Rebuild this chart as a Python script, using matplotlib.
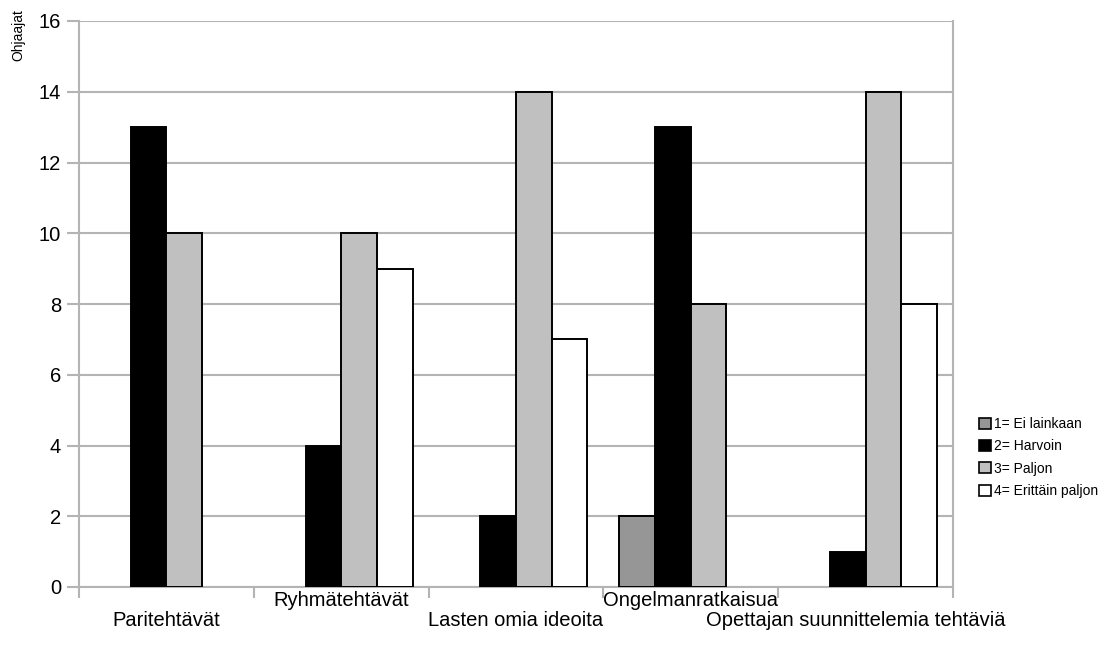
import matplotlib
matplotlib.use("Agg")
import matplotlib.pyplot as plt
import numpy as np
from matplotlib.patches import Patch
import matplotlib.transforms as mtransforms

plt.rcParams['font.family'] = ['Liberation Sans', 'DejaVu Sans']

categories = ["Paritehtävät", "Ryhmätehtävät", "Lasten omia ideoita",
              "Ongelmanratkaisua", "Opettajan suunnittelemia tehtäviä"]
series_names = ["1= Ei lainkaan", "2= Harvoin", "3= Paljon", "4= Erittäin paljon"]
s1 = [0, 0, 0, 2, 0]
s2 = [13, 4, 2, 13, 1]
s3 = [10, 10, 14, 8, 14]
s4 = [0, 9, 7, 0, 8]
series = [s1, s2, s3, s4]
colors = ["#969696", "#000000", "#c0c0c0", "#ffffff"]
yticks = [0, 2, 4, 6, 8, 10, 12, 14, 16]

W, H = 1109, 657
fig = plt.figure(figsize=(W / 100, H / 100), dpi=100)
ax = fig.add_axes([79 / W, 1 - 587 / H, (953 - 79) / W, (587 - 21) / H])

grid_c = "#b4b4b4"
n = len(categories)
x = np.arange(n)
bw = 0.204
for i, (vals, c) in enumerate(zip(series, colors)):
    off = (i - 1.5) * bw
    xs = [xi + off for xi, v in zip(x, vals) if v != 0]
    vs = [v for v in vals if v != 0]
    ax.bar(xs, vs, width=bw, color=c, edgecolor="black", linewidth=1.4, zorder=3)

ax.set_xlim(-0.5, n - 0.5)
ax.set_ylim(0, 16)
ax.set_yticks(yticks)
ax.set_yticklabels([str(t) for t in yticks], fontsize=14.5)
ax.yaxis.grid(True, color=grid_c, linewidth=1.5, zorder=0)
ax.tick_params(axis='y', direction='out', length=9, width=1.5, color=grid_c, pad=4)

ax.set_xticks(np.arange(n + 1) - 0.5)
ax.set_xticklabels([])
ax.tick_params(axis='x', direction='out', length=8, width=1.5, color=grid_c)

for s in ["left", "right", "bottom"]:
    ax.spines[s].set_color(grid_c)
    ax.spines[s].set_linewidth(1.5)
ax.spines["top"].set_visible(False)

trans = mtransforms.blended_transform_factory(ax.transData, fig.transFigure)
for i, cat in enumerate(categories):
    ypix = 621 if i % 2 == 0 else 601
    t = trans
    if i == n - 1:
        t = trans + mtransforms.ScaledTranslation(-10 / 100, 0, fig.dpi_scale_trans)
    ax.text(i, 1 - ypix / H, cat, transform=t, ha="center", va="center", fontsize=14.5)

fig.text(18 / W, 1 - 35 / H, "Ohjaajat", rotation=90, ha="center", va="center", fontsize=10)

handles = [Patch(facecolor=c, edgecolor="black", linewidth=1.2) for c in colors]
leg = fig.legend(handles, series_names, loc="upper left", bbox_to_anchor=(979 / W, 1 - 417 / H),
                 frameon=False, fontsize=10, handlelength=0.85, handleheight=0.85,
                 handletextpad=0.25, labelspacing=0.6, borderpad=0, borderaxespad=0)

fig.savefig("out.png", dpi=100)
